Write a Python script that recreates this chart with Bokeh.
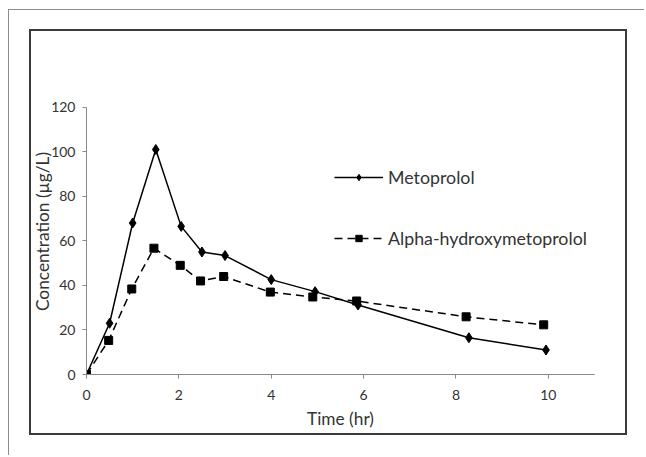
from bokeh.plotting import figure
from bokeh.models import Legend, LegendItem, Range1d
from bokeh.embed import file_html
from bokeh.resources import INLINE

# Data
time_met = [0, 0.5, 1.0, 1.5, 2.05, 2.5, 3.0, 4.0, 4.95, 5.88, 8.28, 9.95]
metoprolol = [0, 23, 68, 101, 66.5, 55, 53.4, 42.6, 37.2, 31.2, 16.5, 11]
time_alpha = [0, 0.48, 0.98, 1.46, 2.03, 2.47, 2.97, 3.98, 4.9, 5.85, 8.22, 9.9]
alpha_oh = [0, 15.3, 38.4, 56.7, 49, 42, 44, 37, 34.8, 33, 25.9, 22.3]
x_ticks = [0, 2, 4, 6, 8, 10]
y_ticks = [0, 20, 40, 60, 80, 100, 120]
series_names = ["Metoprolol", "Alpha-hydroxymetoprolol"]
x_title = "Time (hr)"
y_title = "Concentration (\u00b5g/L)"

FONT = "Lato"
TXT = "#333333"
AX = "#888888"
OUTER = "#8c8c8c"
INNER = "#3a3a3a"

p = figure(width=644, height=455, x_range=Range1d(0, 11), y_range=Range1d(0, 128.4),
           output_backend="svg", toolbar_location=None, title=None,
           min_border_left=86, min_border_right=50, min_border_top=88, min_border_bottom=81)
p.outline_line_color = None
p.grid.visible = False
p.background_fill_color = None
p.border_fill_color = None

# chart-area frames (drawn as the page element's background, behind the canvas)
frames = [
    f"linear-gradient({OUTER},{OUTER}) 8px 9px / 100% 1px no-repeat",
    f"linear-gradient({OUTER},{OUTER}) 8px 9px / 1px 100% no-repeat",
    f"linear-gradient({INNER},{INNER}) 29px 29px / 598px 2px no-repeat",
    f"linear-gradient({INNER},{INNER}) 29px 433px / 598px 2px no-repeat",
    f"linear-gradient({INNER},{INNER}) 29px 29px / 2px 406px no-repeat",
    f"linear-gradient({INNER},{INNER}) 625px 29px / 2px 406px no-repeat",
]
p.styles = {"background": ", ".join(frames) + ", white"}

for ax in (p.xaxis[0], p.yaxis[0]):
    ax.axis_line_color = AX
    ax.major_tick_line_color = AX
    ax.minor_tick_line_color = None
    ax.major_tick_out = 4
    ax.major_tick_in = 0
    ax.major_label_text_font = FONT
    ax.major_label_text_font_size = "14px"
    ax.major_label_text_color = TXT
    ax.axis_label_text_font = FONT
    ax.axis_label_text_font_style = "normal"
    ax.axis_label_text_color = TXT

p.xaxis[0].ticker = x_ticks
p.yaxis[0].ticker = y_ticks
p.xaxis[0].bounds = (0, 11)
p.yaxis[0].bounds = (0, 120)
p.xaxis[0].major_label_standoff = 11
p.yaxis[0].major_label_standoff = 7
p.xaxis[0].axis_label = x_title
p.xaxis[0].axis_label_text_font_size = "17.3px"
p.xaxis[0].axis_label_standoff = 5
p.yaxis[0].axis_label = y_title
p.yaxis[0].axis_label_text_font_size = "17.3px"
p.yaxis[0].axis_label_standoff = -5

r1 = p.line(time_met, metoprolol, line_color="black", line_width=1.5)
r1m = p.scatter(time_met, metoprolol, marker="diamond", size=10, color="black")
r2 = p.line(time_alpha, alpha_oh, line_color="black", line_width=1.5, line_dash="8 5")
r2m = p.scatter(time_alpha, alpha_oh, marker="square", size=8, color="black")

legend = Legend(items=[LegendItem(label=series_names[0], renderers=[r1, r1m]),
                       LegendItem(label=series_names[1], renderers=[r2, r2m])],
                location=(248, 125), orientation="vertical",
                glyph_width=49, glyph_height=16, label_height=16, label_standoff=5,
                spacing=39, padding=0, margin=0,
                border_line_color=None, background_fill_alpha=0,
                label_text_font=FONT, label_text_font_size="17.8px", label_text_color=TXT)
p.add_layout(legend, "center")

open("out.html", "w").write(file_html(p, INLINE))
